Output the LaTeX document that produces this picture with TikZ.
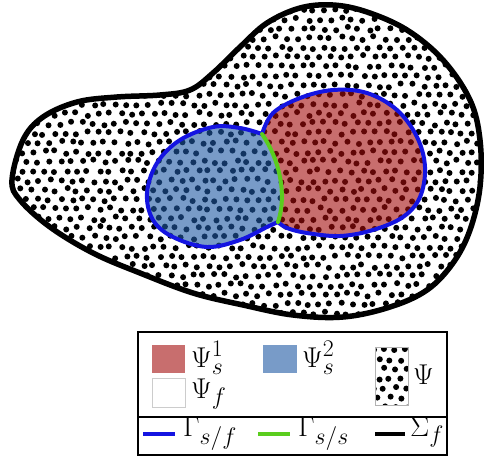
\documentclass[tikz,border=0pt]{standalone}
\definecolor{solA}{RGB}{163,13,13}
\definecolor{solB}{RGB}{30,88,163}
\definecolor{legA}{RGB}{200,110,110}
\definecolor{legB}{RGB}{120,155,200}
\definecolor{ifc}{RGB}{20,20,225}
\definecolor{ssc}{RGB}{90,205,30}
\newcommand{\bigtxt}[1]{\scalebox{1.15}{\Huge #1}}
\tikzset{
  bnd/.style={line width=5.5pt, black},
  ifline/.style={line width=4pt, ifc, line cap=round},
  ssline/.style={line width=4pt, ssc, line cap=round},
  dotmark/.style={fill=black},
  lbl/.style={inner sep=0pt, anchor=base west},
  legbox/.style={line width=1.6pt, draw=black},
}
\def\outerpath{plot[smooth cycle, tension=0.6] coordinates {(12,180) (23,140) (43,117) (77,102) (117,97) (160,95) (190,90) (213,73) (240,47) (267,23) (300,8) (333,5) (367,12) (407,30) (443,60) (470,100) (480,140) (480,187) (470,230) (453,263) (427,290) (390,307) (343,317) (293,315) (243,305) (193,293) (140,273) (93,253) (50,227) (20,200)}}
\def\redarc{plot[smooth, tension=0.6] coordinates {(262,134) (273,113) (300,98) (333,90) (367,93) (397,110) (417,137) (425,167) (420,197) (403,217) (373,230) (340,236) (307,233) (287,228) (278,222)}}
\def\bluearc{plot[smooth, tension=0.6] coordinates {(278,222) (267,227) (240,240) (207,247) (173,237) (153,220) (147,193) (157,163) (180,140) (213,127) (240,128) (262,134)}}
\begin{document}
\begin{tikzpicture}[x=1pt,y=-1pt]
\useasboundingbox (0,0) rectangle (484,459);
\pgfmathsetseed{1234}
% outer domain dots
\begin{scope}
  \clip \outerpath;
  \foreach \j in {0,...,34} {
    \foreach \i in {0,...,45} {
      \pgfmathsetmacro\xx{\i*11 + mod(\j,2)*5.5 + rand*2.0}
      \pgfmathsetmacro\yy{\j*9.5 + rand*2.0}
      \fill[dotmark] (\xx,\yy) circle[radius=3pt];
    }
  }
\end{scope}
% solid regions
\fill[solA, fill opacity=0.6] \redarc .. controls (287,195) and (280,160) .. (262,134) -- cycle;
\fill[solB, fill opacity=0.6] \bluearc .. controls (280,160) and (287,195) .. (278,222) -- cycle;
% boundaries
\draw[bnd] \outerpath;
\draw[ifline] \redarc;
\draw[ifline] \bluearc;
\coordinate (jt) at (262,134);
\coordinate (jb) at (278,222);
\draw[ssline] (jt) .. controls (280,160) and (287,195) .. (jb);
% legend
\draw[legbox] (138,332) rectangle (447,455);
\draw[legbox] (138,417) -- (447,417);
\fill[legA] (152,345) rectangle (185,373);
\draw[black!20, fill=white] (152,378) rectangle (185,407);
\fill[legB] (263,345) rectangle (297,373);
\begin{scope}
  \clip (375,347) rectangle (408,405);
  \foreach \j in {0,...,6} {
    \foreach \i in {0,...,3} {
      \pgfmathsetmacro\xx{373 + \i*11 + mod(\j,2)*5.5 + rand*1.5}
      \pgfmathsetmacro\yy{350 + \j*9.5 + rand*1.5}
      \fill[dotmark] (\xx,\yy) circle[radius=3pt];
    }
  }
\end{scope}
\draw[black!30, line width=0.8pt] (375,347) rectangle (408,405);
\node[lbl] (l1) at (191,367) {\bigtxt{$\Psi_s^1$}};
\node[lbl] (l2) at (302,367) {\bigtxt{$\Psi_s^2$}};
\node[lbl] (l3) at (191,398) {\bigtxt{$\Psi_f$}};
\node[lbl] (l4) at (413,384) {\bigtxt{$\Psi$}};
\coordinate (a1) at (143,434);
\coordinate (a2) at (175,434);
\coordinate (b1) at (258,434);
\coordinate (b2) at (290,434);
\coordinate (c1) at (375,434);
\coordinate (c2) at (405,434);
\draw[line width=4pt, ifc] (a1) -- (a2);
\draw[line width=4pt, ssc] (b1) -- (b2);
\draw[line width=4pt, black] (c1) -- (c2);
\node[lbl] (g1) at (183,436) {\bigtxt{$\Gamma_{s/f}$}};
\node[lbl] (g2) at (298,436) {\bigtxt{$\Gamma_{s/s}$}};
\node[lbl] (g3) at (410,436) {\bigtxt{$\Sigma_f$}};
\end{tikzpicture}
\end{document}
